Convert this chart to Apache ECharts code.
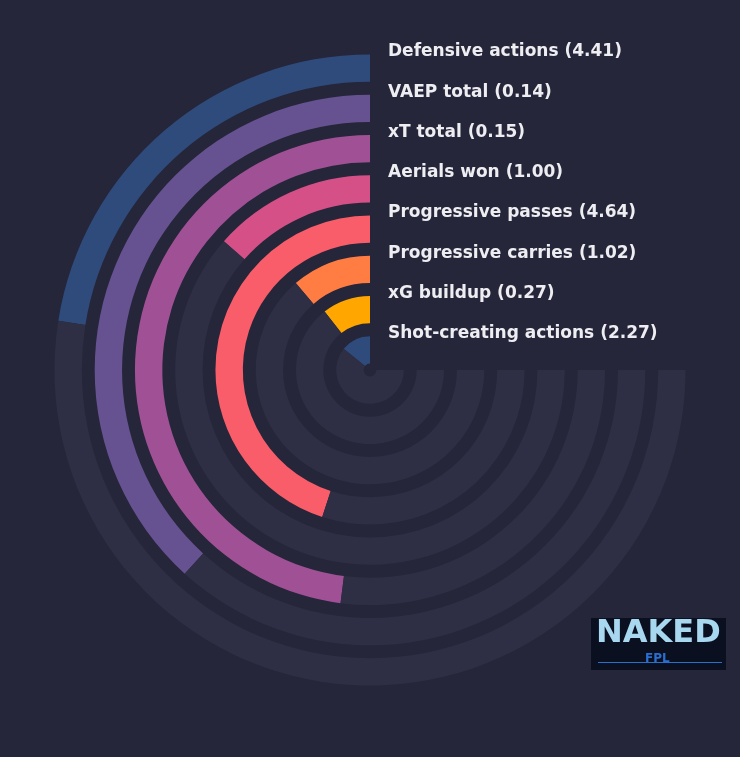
<!DOCTYPE html>
<html><head><meta charset="utf-8">
<script src="https://cdn.jsdelivr.net/npm/echarts@6/dist/echarts.min.js"></script>
<style>html,body{margin:0;padding:0;background:#252639}#c{width:740px;height:757px}</style>
</head><body><div id="c"></div>
<script>
// inner -> outer
const categories = ['Shot-creating actions','xG buildup','Progressive carries','Progressive passes','Aerials won','xT total','VAEP total','Defensive actions'];
const rawValues = ['2.27','0.27','1.02','4.64','1.00','0.15','0.14','4.41'];
const percentiles = [19, 14, 15, 60, 18, 64, 51, 30];
const colors = ['#2f4b7c','#ffa600','#ff7c43','#f95d6a','#d45087','#a05195','#665191','#2f4b7c'];

const cx = 370, cy = 370, r0 = 0, r1 = 322;
const step = (r1 - r0) / categories.length;
const chart = echarts.init(document.getElementById('c'));
const labels = categories.map((c, i) => ({
  type: 'text', left: 388, top: cy - (r0 + (i + 0.84) * step) - 11,
  style: { text: c + ' (' + rawValues[i] + ')', fill: '#eeeef2', font: 'bold 17px "DejaVu Sans"' }
}));
chart.setOption({
  backgroundColor: '#252639',
  animation: false,
  polar: { center: [cx, cy], radius: [r0, r1] },
  angleAxis: { type: 'value', min: 0, max: 400 / 3, startAngle: 90, clockwise: false, show: false },
  radiusAxis: { type: 'category', data: categories, show: false },
  series: [
    { type: 'bar', coordinateSystem: 'polar', stack: 'a', barWidth: '68%',
      data: percentiles.map((v, i) => ({ value: v, itemStyle: { color: colors[i] } })) },
    { type: 'bar', coordinateSystem: 'polar', stack: 'a', barWidth: '68%',
      data: percentiles.map(v => 100 - v), itemStyle: { color: '#2e2f45' }, silent: true }
  ],
  graphic: labels.concat([
    { type: 'rect', left: 591, top: 618, shape: { width: 135, height: 52 }, style: { fill: '#0b1020' } },
    { type: 'text', left: 596, top: 618, style: { text: 'NAKED', fill: '#a8d8f0', font: 'bold 32px "DejaVu Sans"' } },
    { type: 'rect', left: 598, top: 662, shape: { width: 124, height: 1 }, style: { fill: '#2a6fd0' } },
    { type: 'text', left: 645, top: 653, style: { text: 'FPL', fill: '#2a6fd0', font: 'bold 12px "DejaVu Sans"' } }
  ])
});
</script></body></html>
